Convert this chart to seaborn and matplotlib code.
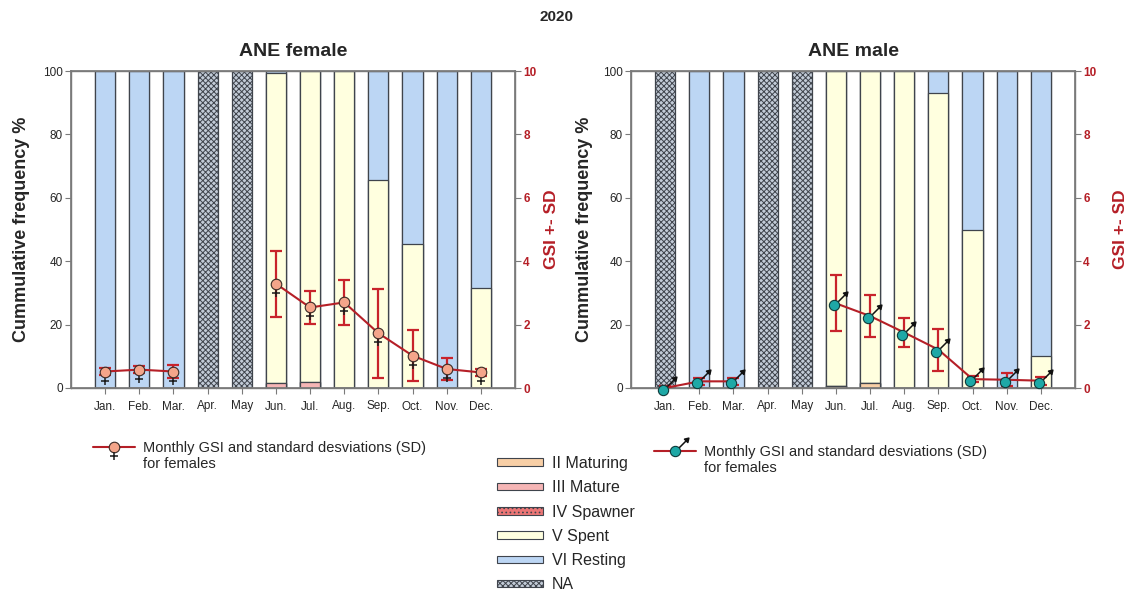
import numpy as np
import pandas as pd
import matplotlib
matplotlib.use("Agg")
import matplotlib.pyplot as plt
import matplotlib.transforms as mtransforms
from matplotlib.path import Path
from matplotlib.patches import Patch
from matplotlib.lines import Line2D
from matplotlib.legend_handler import HandlerTuple
import seaborn as sns

# ---------------- data ----------------
months = ["Jan.", "Feb.", "Mar.", "Apr.", "May", "Jun.", "Jul.", "Aug.", "Sep.", "Oct.", "Nov.", "Dec."]
stages = ["II Maturing", "III Mature", "IV Spawner", "V Spent", "VI Resting", "NA"]

female_II = [0, 0, 0, 0, 0, 0, 0, 0, 0, 0, 0, 0]
female_III = [0, 0, 0, 0, 0, 1.5, 2.0, 0, 0, 0, 0, 0]
female_IV = [0, 0, 0, 0, 0, 0, 0, 0, 0, 0, 0, 0]
female_V = [0, 0, 0, 0, 0, 97.8, 98.0, 100, 65.5, 45.5, 0, 31.5]
female_VI = [100, 100, 100, 0, 0, 0.7, 0, 0, 34.5, 54.5, 100, 68.5]
female_NA = [0, 0, 0, 100, 100, 0, 0, 0, 0, 0, 0, 0]

male_II = [0, 0, 0, 0, 0, 0.7, 1.6, 0, 0, 0, 0, 0]
male_III = [0, 0, 0, 0, 0, 0, 0, 0, 0, 0, 0, 0]
male_IV = [0, 0, 0, 0, 0, 0, 0, 0, 0, 0, 0, 0]
male_V = [0, 0, 0, 0, 0, 99.3, 98.4, 100, 93.0, 50.0, 0, 10.0]
male_VI = [0, 100, 100, 0, 0, 0, 0, 0, 7.0, 50.0, 100, 90.0]
male_NA = [100, 0, 0, 100, 100, 0, 0, 0, 0, 0, 0, 0]

female_gsi = [0.52, 0.58, 0.52, np.nan, np.nan, 3.29, 2.54, 2.70, 1.73, 1.02, 0.60, 0.49]
female_sd = [0.10, 0.10, 0.20, np.nan, np.nan, 1.04, 0.53, 0.72, 1.40, 0.80, 0.35, 0.10]
male_gsi = [0.0, 0.21, 0.21, np.nan, np.nan, 2.67, 2.27, 1.75, 1.21, 0.28, 0.26, 0.23]
male_sd = [0.05, 0.10, 0.10, np.nan, np.nan, 0.88, 0.67, 0.47, 0.66, 0.10, 0.20, 0.13]

legend_line1 = "Monthly GSI and standard desviations (SD)"
legend_line2 = "for females"

# ---------------- style ----------------
sns.set_theme(style="white")
plt.rcParams["font.family"] = ["Liberation Sans", "DejaVu Sans"]
plt.rcParams["hatch.linewidth"] = 0.7

stage_colors = {
    "II Maturing": "#F8CFA6",
    "III Mature": "#F5B5B5",
    "IV Spawner": "#EC7676",
    "V Spent": "#FFFFDF",
    "VI Resting": "#BCD6F4",
    "NA": "#C2CBD7",
}
stage_hatch = {"IV Spawner": "....", "NA": "xxxxxx"}
edge_col = "#3f444c"
red = "#B51F27"
spine_col = "#7a7a7a"
fem_face = "#F4A58A"
male_face = "#1EA8A6"

# marker paths (sex symbols around a circle of radius 1)
cross_path = Path([(0, -1.0), (0, -2.5), (-0.8, -1.65), (0.8, -1.65)],
                  [Path.MOVETO, Path.LINETO, Path.MOVETO, Path.LINETO])
arrow_path = Path([(0.72, 0.72), (2.2, 2.2),
                   (2.6, 2.6), (1.75, 2.4), (2.4, 1.75), (2.6, 2.6)],
                  [Path.MOVETO, Path.LINETO,
                   Path.MOVETO, Path.LINETO, Path.LINETO, Path.CLOSEPOLY])
fem_d = 7.6
male_d = 7.4

fig = plt.figure(figsize=(11.38, 5.94), dpi=100)
axL = fig.add_axes([71 / 1138, 1 - 388 / 594, 444 / 1138, 317 / 594])
axR = fig.add_axes([631 / 1138, 1 - 388 / 594, 444 / 1138, 317 / 594])


def draw_panel(ax, layers, gsi, sd, title, sex, ylab_pad, r_pad):
    df = pd.DataFrame({"month": months})
    for s, v in zip(stages, layers):
        df[s] = v
    cum = df[stages].cumsum(axis=1)
    # draw cumulative layers from the top one down
    for s in reversed(stages):
        d = pd.DataFrame({"month": months, "cum": cum[s].values})
        sns.barplot(data=d, x="month", y="cum", order=months, ax=ax,
                    color=stage_colors[s], saturation=1, width=0.59,
                    edgecolor=edge_col, linewidth=0.9, errorbar=None,
                    hatch=stage_hatch.get(s, None))
    ax.set_xlim(-1.0, 12.0)
    ax.set_ylim(0, 100)
    ax.set_yticks([0, 20, 40, 60, 80, 100])
    ax.set_xlabel("")
    ax.set_ylabel("Cummulative frequency %", fontsize=13, fontweight="bold",
                  labelpad=ylab_pad)
    ax.set_title(title, fontsize=14, fontweight="bold", pad=11)
    for sp in ax.spines.values():
        sp.set_color(spine_col)
        sp.set_linewidth(1.0)
    ax.tick_params(axis="both", which="both", direction="out", length=4,
                   width=0.8, color=spine_col, labelsize=8.5, pad=2)
    ax.tick_params(axis="x", pad=5)
    ax.tick_params(left=True, bottom=True)

    ax2 = ax.twinx()
    ax2.set_ylim(0, 10)
    ax2.set_yticks([0, 2, 4, 6, 8, 10])
    ax2.tick_params(axis="y", direction="out", length=4, width=0.8,
                    color=spine_col, labelsize=8.5, labelcolor=red, pad=2)
    for t in ax2.get_yticklabels():
        t.set_fontweight("bold")
    for sp in ax2.spines.values():
        sp.set_color(spine_col)
    ax2.grid(False)

    g = pd.DataFrame({"idx": np.arange(len(months)), "gsi": gsi, "sd": sd})
    g["seg"] = g["gsi"].isna().cumsum()
    gv = g.dropna()
    ax2.errorbar(gv["idx"], gv["gsi"], yerr=gv["sd"], fmt="none", ecolor="#C8232B",
                 elinewidth=1.6, capsize=4, capthick=1.6, zorder=3)
    sns.lineplot(data=gv, x="idx", y="gsi", units="seg", estimator=None,
                 color=red, linewidth=1.5, ax=ax2, zorder=4, legend=False)
    ax2.set_xlabel("")
    ax2.set_ylabel("GSI +- SD", fontsize=12.5, fontweight="bold", color=red,
                   labelpad=r_pad)
    if sex == "f":
        ax2.plot(gv["idx"], gv["gsi"], ls="none", marker=cross_path,
                 ms=fem_d * 2.5, mec="#1a1a1a", mew=1.1, zorder=5, clip_on=False)
        ax2.plot(gv["idx"], gv["gsi"], ls="none", marker="o", ms=fem_d,
                 mfc=fem_face, mec="#3a2a25", mew=0.8, zorder=6, clip_on=False)
    else:
        off = mtransforms.offset_copy(ax2.transData, fig=fig, x=-1.5, y=-1.5,
                                      units="points")
        ax2.plot(gv["idx"], gv["gsi"], ls="none", marker=arrow_path,
                 ms=male_d * 2.6, mfc="#111111", mec="#111111", mew=1.1,
                 zorder=5, clip_on=False, transform=off)
        ax2.plot(gv["idx"], gv["gsi"], ls="none", marker="o", ms=male_d,
                 mfc=male_face, mec="#0d3a3a", mew=0.8, zorder=6, clip_on=False,
                 transform=off)
    ax.set_xticks(range(len(months)))
    ax.set_xticklabels(months)
    return ax2


draw_panel(axL, [female_II, female_III, female_IV, female_V, female_VI, female_NA],
           female_gsi, female_sd, "ANE female", "f", 9, 5)
draw_panel(axR, [male_II, male_III, male_IV, male_V, male_VI, male_NA],
           male_gsi, male_sd, "ANE male", "m", 7, 12)

fig.text(556 / 1138, 1 - 17 / 594, "2020", ha="center", va="center",
         fontsize=11, fontweight="bold")

# ---------------- legends ----------------
fem_h = (Line2D([], [], color=red, lw=1.5, marker="o", ms=fem_d, mfc=fem_face,
                mec="#3a2a25", mew=0.8),
         Line2D([], [], ls="none", marker=cross_path, ms=fem_d * 2.5,
                mec="#1a1a1a", mew=1.1))
male_h = (Line2D([], [], color=red, lw=1.5, marker="o", ms=male_d, mfc=male_face,
                 mec="#0d3a3a", mew=0.8),
          Line2D([], [], ls="none", marker=arrow_path, ms=male_d * 2.6,
                 mfc="#111111", mec="#111111", mew=1.1))
blank = Line2D([], [], ls="none", marker=None, alpha=0)
for h, anchor in [(fem_h, (93 / 1138, 1 - 441 / 594)),
                  (male_h, (654 / 1138, 1 - 445 / 594))]:
    fig.legend([h, blank], [legend_line1, legend_line2],
               handler_map={tuple: HandlerTuple(ndivide=1, pad=0)},
               loc="upper left", bbox_to_anchor=anchor,
               frameon=False, fontsize=10.5, handlelength=2.9, handletextpad=0.5,
               labelspacing=0.16, borderpad=0, borderaxespad=0)

stage_handles = [Patch(facecolor=stage_colors[s], edgecolor=edge_col, linewidth=0.8,
                       hatch=stage_hatch.get(s, None)) for s in stages]
fig.legend(stage_handles, stages, loc="upper left",
           bbox_to_anchor=(497 / 1138, 1 - 456 / 594), frameon=False,
           fontsize=11.5, handlelength=2.9, handleheight=0.35, handletextpad=0.55,
           labelspacing=0.58, borderpad=0, borderaxespad=0)

fig.savefig("out.png", dpi=100)
